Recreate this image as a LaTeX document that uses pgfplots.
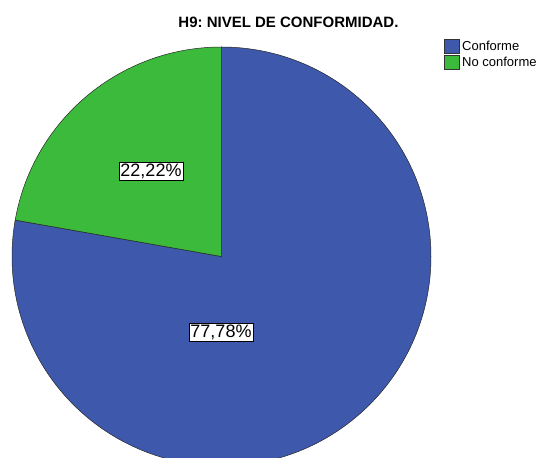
\documentclass[border=0pt]{standalone}
\usepackage{pgfplots}
\usepackage{pgfplotstable}
\usepackage{fontspec}
\setmainfont{Liberation Sans}
\pgfplotsset{compat=1.18}
\frenchspacing
\definecolor{cblue}{RGB}{62,88,172}
\definecolor{cgreen}{RGB}{60,186,60}

\pgfplotstableread{
label value
Conforme 77.78
NoConforme 22.22
}\piedata

% slice angles (clockwise from the top)
\pgfplotstablegetelem{0}{value}\of\piedata \let\vA\pgfplotsretval
\pgfplotstablegetelem{1}{value}\of\piedata \let\vB\pgfplotsretval
\pgfmathsetmacro\aA{90-3.6*\vA}
\pgfmathsetmacro\aB{\aA-3.6*\vB}

\begin{document}
\begin{tikzpicture}
\useasboundingbox (0,0) rectangle (542pt,458pt);
\begin{axis}[
  at={(0,0)}, anchor=origin,
  scale only axis, width=542pt, height=458pt,
  xmin=0, xmax=542, ymin=0, ymax=458,
  hide axis, clip=true,
  legend style={at={(axis cs:444,419)}, anchor=north west,
    draw=none, fill=none, inner sep=0pt, row sep=1.5pt,
    font=\fontsize{13}{15}\selectfont,
    nodes={inner sep=0.6pt},
    /tikz/every odd column/.append style={column sep=2.5pt}},
  legend cell align=left,
  legend image code/.code={\path[#1] (0pt,-7pt) rectangle (14.5pt,7pt);},
]
\addlegendimage{fill=cblue, draw=black!80, line width=0.4pt}
\addlegendentry{Conforme}
\addlegendimage{fill=cgreen, draw=black!80, line width=0.4pt}
\addlegendentry{No conforme}

\fill[cblue, draw=black!85, line width=0.5pt] (axis cs:221.5,201.5) -- ++(90:209.5pt)
  arc[start angle=90, end angle=\aA, radius=209.5pt] -- cycle;
\fill[cgreen, draw=black!85, line width=0.5pt] (axis cs:221.5,201.5) -- ++(\aA:209.5pt)
  arc[start angle=\aA, end angle=\aB, radius=209.5pt] -- cycle;

\node[draw=black, fill=white, inner sep=1.5pt, font=\fontsize{18}{20}\selectfont]
  at (axis cs:221,126) {\pgfmathprintnumber[assume math mode=true,use comma,fixed,precision=2,fixed zerofill]{\vA}\%};
\node[draw=black, fill=white, inner sep=1.5pt, font=\fontsize{18}{20}\selectfont]
  at (axis cs:151,287) {\pgfmathprintnumber[assume math mode=true,use comma,fixed,precision=2,fixed zerofill]{\vB}\%};

\node[font=\bfseries\fontsize{15}{17}\selectfont] at (axis cs:288.5,435.5) {H9: NIVEL DE CONFORMIDAD.};
\end{axis}
\end{tikzpicture}
\end{document}
